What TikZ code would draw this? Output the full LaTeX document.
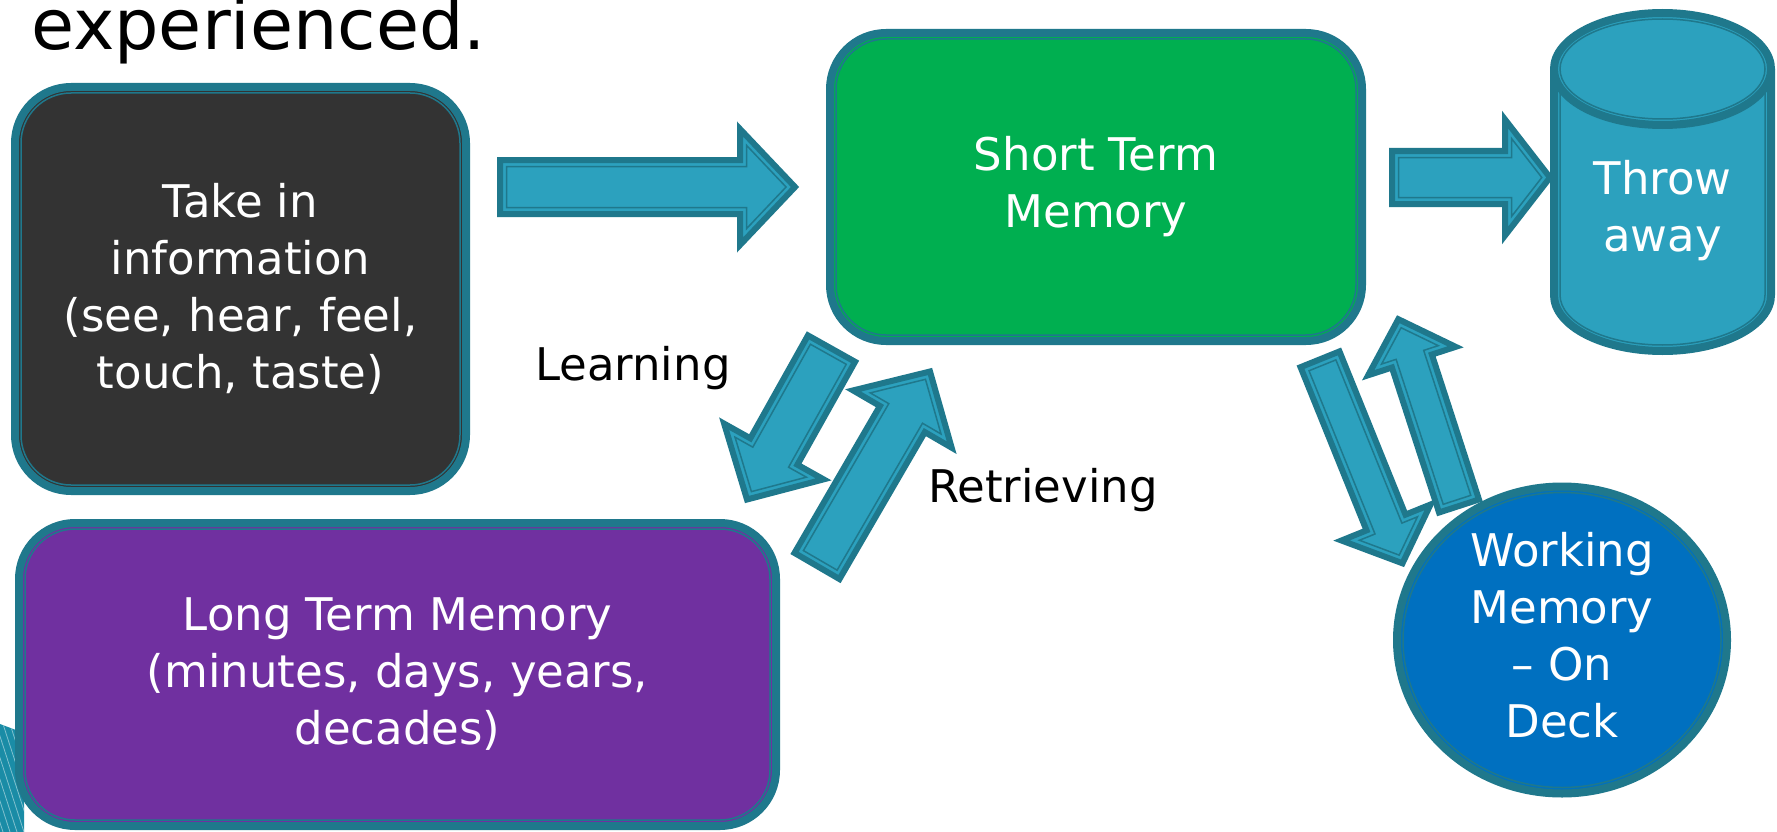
\documentclass[tikz,border=0pt]{standalone}
\usepackage{fontspec}
\setmainfont{DejaVu Sans}
\usetikzlibrary{calc,shapes.geometric}
\definecolor{tealb}{HTML}{1F788C}
\definecolor{arrowf}{HTML}{2CA1BE}
\definecolor{darkf}{HTML}{333333}
\definecolor{greenf}{HTML}{00AF50}
\definecolor{purplef}{HTML}{7030A0}
\definecolor{bluef}{HTML}{0070C0}
\definecolor{stripe}{HTML}{1A8CA6}
\tikzset{
  membox/.style={rectangle, rounded corners=56pt, draw=tealb, line width=8pt, text=white,
    align=center, inner sep=0pt, font=\fontsize{45}{57}\selectfont},
  innerline/.style={draw=tealb, line width=1.5pt},
  barrow/.style={draw=tealb, fill=arrowf, line width=6pt, line join=miter},
  binner/.style={draw=tealb, line width=1.5pt, line join=miter},
  lbl/.style={font=\fontsize{45}{57}\selectfont, text=black, inner sep=0pt, anchor=base west},
}
% block arrow: #1 tail, #2 tip, #3 shaft half width, #4 head half width, #5 head length
\newcommand\blkarrow[5]{%
  \pgfmathsetmacro\bsina{#4/sqrt((#4)^2+(#5)^2)}%
  \pgfmathsetmacro\bwi{#3-6.5}%
  \pgfmathsetmacro\btipback{6.5/\bsina}%
  \pgfmathsetmacro\bLi{#5-6.5-\btipback}%
  \pgfmathsetmacro\bhi{\bLi*#4/#5}%
  \coordinate (tB) at ($(#2)!#5pt!(#1)$);
  \draw[barrow] ($(#1)!#3pt!90:(#2)$) -- ($(tB)!#3pt!90:(#2)$) -- ($(tB)!#4pt!90:(#2)$)
    -- (#2) -- ($(tB)!#4pt!-90:(#2)$) -- ($(tB)!#3pt!-90:(#2)$) -- ($(#1)!#3pt!-90:(#2)$) -- cycle;
  \coordinate (tA) at ($(#1)!6.5pt!(#2)$);
  \coordinate (tB2) at ($(tB)!6.5pt!(#2)$);
  \coordinate (tT) at ($(#2)!\btipback pt!(#1)$);
  \draw[binner] ($(tA)!\bwi pt!90:(#2)$) -- ($(tB2)!\bwi pt!90:(#2)$) -- ($(tB2)!\bhi pt!90:(#2)$)
    -- (tT) -- ($(tB2)!\bhi pt!-90:(#2)$) -- ($(tB2)!\bwi pt!-90:(#2)$) -- ($(tA)!\bwi pt!-90:(#2)$) -- cycle;
}
\begin{document}
\begin{tikzpicture}[x=1pt,y=-1pt]
\useasboundingbox (0,0) rectangle (1777,832);
\fill[white] (0,0) rectangle (1777,832);
% slide decoration bottom left
\fill[stripe] (0,724) -- (24,733) -- (24,832) -- (0,832) -- cycle;
\begin{scope}
  \clip (0,724) -- (24,733) -- (24,832) -- (0,832) -- cycle;
  \foreach \i in {-60,-53,...,30} \draw[stripe!55!white, line width=0.8pt] (\i,724) -- (\i+35,832);
\end{scope}

% title fragment
\node[lbl, font=\fontsize{70}{84}\selectfont] (title) at (31,50) {experienced.};

% boxes
\node[membox, fill=darkf, minimum width=451pt, minimum height=404pt] (in) at (240.5,289)
  {Take in\\information\\(see, hear, feel,\\touch, taste)};
\draw[innerline, rounded corners=50pt] ([xshift=10pt,yshift=-10pt]in.north west) rectangle ([xshift=-10pt,yshift=10pt]in.south east);

\node[membox, fill=greenf, minimum width=532pt, minimum height=308pt] (stm) at (1096,187)
  {Short Term\\Memory};
\draw[innerline, rounded corners=50pt] ([xshift=10pt,yshift=-10pt]stm.north west) rectangle ([xshift=-10pt,yshift=10pt]stm.south east);

\node[membox, fill=purplef, minimum width=757pt, minimum height=303pt] (ltm) at (397.5,674.5)
  {Long Term Memory\\(minutes, days, years,\\decades)};
\draw[innerline, rounded corners=50pt] ([xshift=10pt,yshift=-10pt]ltm.north west) rectangle ([xshift=-10pt,yshift=10pt]ltm.south east);

\node[ellipse, draw=tealb, line width=8pt, fill=bluef, minimum width=330pt, minimum height=307pt,
  inner sep=0pt, text=white, align=center, font=\fontsize{45}{57}\selectfont] (wm) at (1562,640)
  {Working\\Memory\\– On\\Deck\rule[-10pt]{0pt}{0pt}};
\draw[innerline] (wm.center) ellipse (159pt and 147.5pt);

% cylinder
\fill[arrowf] (1554,69) rectangle (1771,295);
\fill[arrowf] (1662.5,295) ellipse (108.5pt and 56pt);
\draw[innerline] (1560,69) -- (1560,295) arc[start angle=180,end angle=360,x radius=102.5pt,y radius=50pt] -- (1765,69);
\draw[tealb, line width=8pt] (1554,69) -- (1554,295) arc[start angle=180,end angle=360,x radius=108.5pt,y radius=56pt] -- (1771,69);
\draw[tealb, line width=8pt, fill=arrowf] (1662.5,69) ellipse (108.5pt and 56pt);
\draw[innerline] (1662.5,69) ellipse (102.5pt and 50pt);
\node[text=white, align=center, inner sep=0pt, font=\fontsize{45}{57}\selectfont] (throw) at (1662.5,211) {Throw\\away};

% labels
\node[lbl] (learn) at (535,380) {Learning};
\node[lbl] (retr) at (928,502) {Retrieving};

% block arrows
\coordinate (a1s) at (500,187);   \coordinate (a1e) at (795,187);
\coordinate (a2s) at (1392,177.5); \coordinate (a2e) at (1550,177.5);
\coordinate (ls) at (831.5,348.6); \coordinate (le) at (747,499.5);
\coordinate (rs) at (817,566);     \coordinate (re) at (930,371.5);
\coordinate (ds) at (1320,359.3);  \coordinate (de) at (1402.5,563.3);
\coordinate (us) at (1459,506);    \coordinate (ue) at (1398.3,319.2);
\blkarrow{a1s}{a1e}{27}{58}{55}
\blkarrow{a2s}{a2e}{26.5}{58}{45}
\blkarrow{ls}{le}{27}{57}{55}
\blkarrow{rs}{re}{26}{57}{55}
\blkarrow{ds}{de}{21}{48}{44}
\blkarrow{us}{ue}{21}{46}{44}
\end{tikzpicture}
\end{document}
